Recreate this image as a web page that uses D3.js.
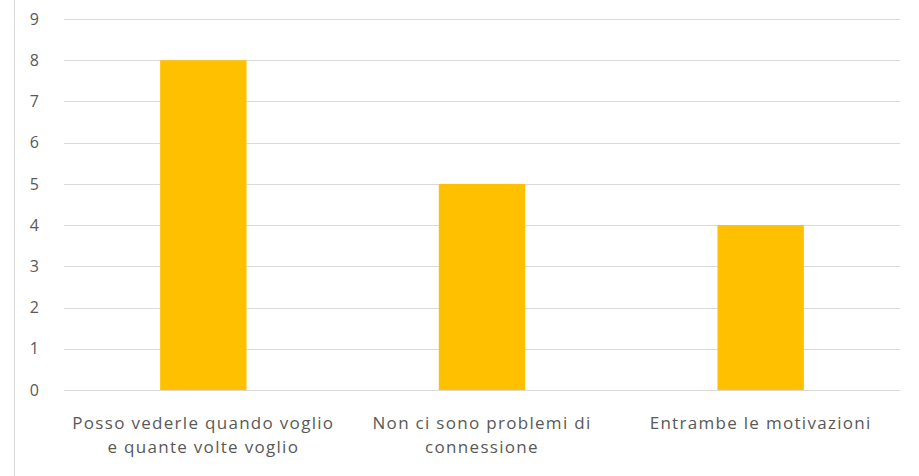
<!DOCTYPE html>
<html>
<head>
<meta charset="utf-8">
<script src="https://cdn.jsdelivr.net/npm/d3@7"></script>
<style>
  body { margin: 0; background: #fff; }
  text { font-family: "Open Sans", "Noto Sans", sans-serif; fill: #595959; }
</style>
</head>
<body>
<script>
// dati
var categories = [
  ["Posso vederle quando voglio", "e quante volte voglio"],
  ["Non ci sono problemi di", "connessione"],
  ["Entrambe le motivazioni"]
];
var values = [8, 5, 4];
var yTicks = [0, 1, 2, 3, 4, 5, 6, 7, 8, 9];

var width = 919;
var height = 476;
var margin = { top: 19, right: 19, bottom: 86, left: 64 };

var svg = d3.select("body").append("svg")
  .attr("width", width)
  .attr("height", height);

// bordo sinistro del riquadro
svg.append("line")
  .attr("x1", 14.5).attr("x2", 14.5)
  .attr("y1", 0).attr("y2", height)
  .attr("stroke", "#d9d9d9");

var x = d3.scaleBand()
  .domain(d3.range(categories.length))
  .range([margin.left, width - margin.right])
  .paddingInner(0.69)
  .paddingOuter(0.345);

var y = d3.scaleLinear()
  .domain([0, 9])
  .range([height - margin.bottom, margin.top]);

// griglia orizzontale
svg.append("g")
  .selectAll("line")
  .data(yTicks)
  .enter()
  .append("line")
  .attr("x1", margin.left)
  .attr("x2", width - margin.right)
  .attr("y1", d => Math.round(y(d)) + 0.5)
  .attr("y2", d => Math.round(y(d)) + 0.5)
  .attr("stroke", "#d9d9d9");

// etichette asse y
var yAxis = svg.append("g")
  .attr("transform", "translate(" + (margin.left - 25) + ",0)")
  .call(d3.axisLeft(y).tickValues(yTicks).tickSize(0).tickPadding(0));
yAxis.select(".domain").remove();
yAxis.selectAll("text")
  .style("font-size", "16px")
  .style("font-family", "'Open Sans', sans-serif")
  .attr("fill", "#595959");

// barre
svg.append("g")
  .selectAll("rect")
  .data(values)
  .enter()
  .append("rect")
  .attr("x", (d, i) => x(i))
  .attr("width", x.bandwidth())
  .attr("y", d => y(d))
  .attr("height", d => y(0) - y(d))
  .attr("fill", "#ffc000");

// etichette categorie
var labels = svg.append("g")
  .selectAll("text")
  .data(categories)
  .enter()
  .append("text")
  .attr("text-anchor", "middle")
  .style("font-size", "17px")
  .style("letter-spacing", "1.3px")
  .attr("x", (d, i) => x(i) + x.bandwidth() / 2)
  .attr("y", y(0) + 39);

labels.selectAll("tspan")
  .data(d => d)
  .enter()
  .append("tspan")
  .attr("x", function () { return d3.select(this.parentNode).attr("x"); })
  .attr("dy", (d, i) => i === 0 ? 0 : 24)
  .text(d => d);
</script>
</body>
</html>
